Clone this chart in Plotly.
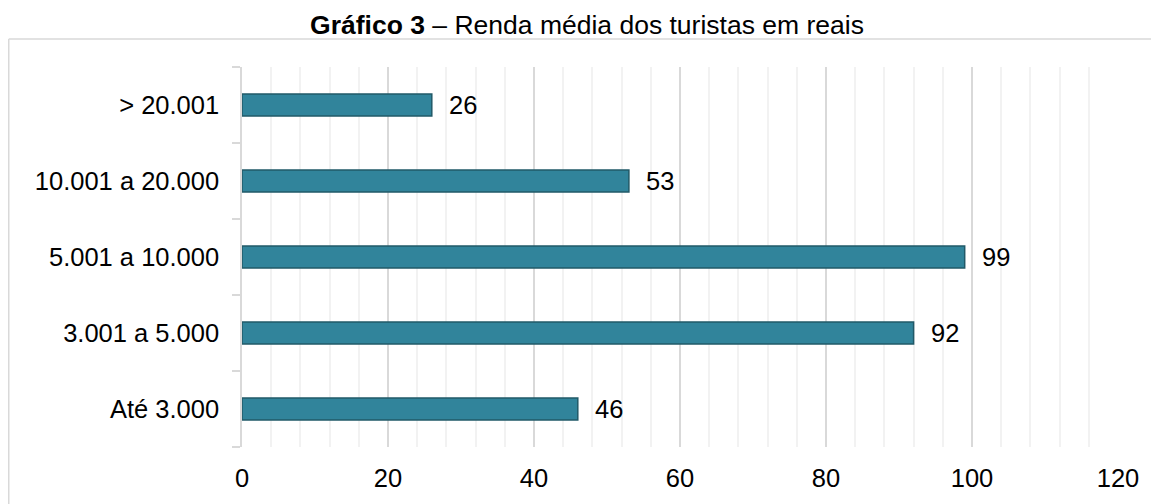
import plotly.graph_objects as go

categories = ["Até 3.000", "3.001 a 5.000", "5.001 a 10.000", "10.001 a 20.000", "> 20.001"]
values = [46, 92, 99, 53, 26]
x_ticks = [0, 20, 40, 60, 80, 100, 120]

FONT = "Liberation Sans, Arial, sans-serif"
FS = 25.5

fig = go.Figure()
fig.add_trace(go.Bar(
    x=values, y=categories, orientation="h",
    width=0.29,
    marker=dict(color="#31849B", line=dict(color="#215968", width=1.5)),
    hoverinfo="x+y",
))

annotations = []
for c, v in zip(categories, values):
    annotations.append(dict(
        x=v, y=c, xref="x", yref="y", text=str(v), showarrow=False,
        xanchor="left", yanchor="middle", xshift=15,
        font=dict(family=FONT, size=FS, color="#000000"),
    ))

# the page body adds an 8 px offset, so the figure is 8 px smaller than the window
W, H = 1151, 496
L, R, T, B = 234, 41, 59, 57
pw, ph = W - L - R, H - T - B

def px_x(p):
    return (p - L) / pw

def px_y(p):
    return (H - B - p) / ph

shapes = [
    dict(type="line", xref="paper", yref="paper",
         x0=px_x(0.75), x1=px_x(W + 2), y0=px_y(31), y1=px_y(31),
         line=dict(color="#D9D9D9", width=1.5)),
    dict(type="line", xref="paper", yref="paper",
         x0=px_x(0.75), x1=px_x(0.75), y0=px_y(31), y1=px_y(H + 2),
         line=dict(color="#D9D9D9", width=1.5)),
]

fig.update_layout(
    width=W, height=H,
    margin=dict(l=L, r=R, t=T, b=B, pad=0),
    paper_bgcolor="white", plot_bgcolor="white",
    showlegend=False,
    title=dict(
        text="<b>Gráfico 3</b> – Renda média dos turistas em reais",
        x=579 / W, xanchor="center", xref="container",
        y=1 - 17 / H, yanchor="middle", yref="container",
        font=dict(family=FONT, size=26.5, color="#000000"),
    ),
    font=dict(family=FONT, size=FS, color="#000000"),
    xaxis=dict(
        range=[0, 120], tickvals=x_ticks, ticktext=[str(t) for t in x_ticks],
        showgrid=True, gridcolor="#D9D9D9", gridwidth=1.5,
        minor=dict(dtick=4, showgrid=True, gridcolor="#F2F2F2", gridwidth=1.5),
        zeroline=False, showline=False, ticks="",
        ticklabelstandoff=13,
        tickfont=dict(family=FONT, size=FS, color="#000000"),
        fixedrange=True,
    ),
    yaxis=dict(
        categoryorder="array", categoryarray=categories,
        showline=True, linecolor="#D9D9D9", linewidth=1.5,
        ticks="outside", tickson="boundaries", ticklen=8, tickcolor="#D9D9D9", tickwidth=1.5,
        showgrid=False, zeroline=False,
        ticklabelstandoff=16,
        tickfont=dict(family=FONT, size=FS, color="#000000"),
        fixedrange=True,
    ),
    shapes=shapes,
    annotations=annotations,
)

fig.write_html("out.html")
